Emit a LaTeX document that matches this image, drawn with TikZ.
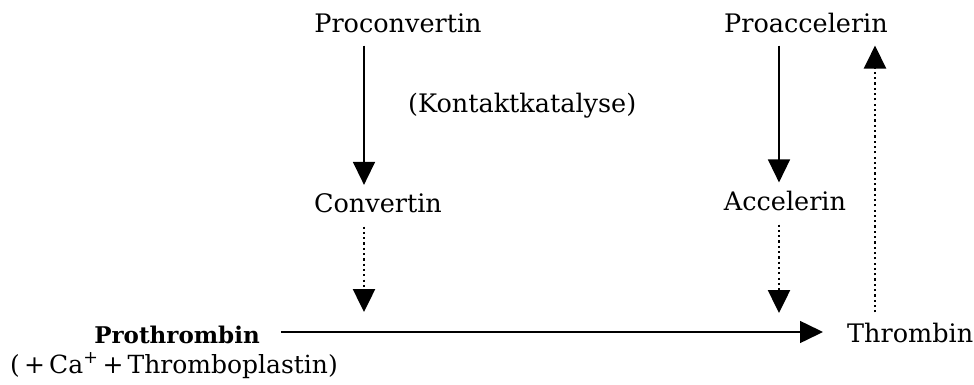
\documentclass[tikz,border=0pt]{standalone}
\usepackage{fontspec}
\setmainfont{DejaVu Serif}
\usetikzlibrary{arrows.meta}
\begin{document}
\begin{tikzpicture}[x=1pt,y=-1pt,
  lbl/.style={inner sep=0pt,anchor=base,font=\fontsize{25.5}{30}\selectfont},
  solidarrow/.style={line width=1.5pt,-{Triangle[width=22pt,length=23pt]}},
  dotarrow/.style={line width=2.5pt,dash pattern=on 2.2pt off 3.1pt,-{Triangle[width=22pt,length=23pt]}}]
\useasboundingbox (0,0) rectangle (974,385);
% nodes
\node[lbl] (proconv) at (398,33) {Proconvertin};
\node[lbl] (proacc) at (806,33) {Proaccelerin};
\node[lbl,anchor=base west] (kontakt) at (408,113) {(Kontaktkatalyse)};
\node[lbl] (conv) at (378,212) {Convertin};
\node[lbl] (acc) at (785,210) {Accelerin};
\node[lbl,font=\fontsize{23}{27}\selectfont\bfseries] (proth) at (177,343) {Prothrombin};
\node[lbl,anchor=base west,font=\fontsize{25}{30}\selectfont] (ca) at (10,373) {(\,+\,Ca\textsuperscript{+}\,+\,Thromboplastin)};
\node[lbl,anchor=base west] (thr) at (847,342) {Thrombin};
% helper coordinates
\coordinate (c1) at (364,0);
\coordinate (c2) at (779,0);
\coordinate (c3) at (875,0);
\coordinate (hl) at (0,332);
% connectors
\draw[solidarrow,shorten <=12pt,shorten >=8pt] (proconv.south -| c1) -- (conv.north -| c1);
\draw[solidarrow,shorten <=12pt,shorten >=8pt] (proacc.south -| c2) -- (acc.north -| c2);
\draw[dotarrow,shorten <=14pt,shorten >=20pt] (conv.south -| c1) -- (hl -| c1);
\draw[dotarrow,shorten <=14pt,shorten >=19pt] (acc.south -| c2) -- (hl -| c2);
\draw[solidarrow,shorten <=21pt,shorten >=24pt] (proth.east |- hl) -- (thr.west |- hl);
\draw[dotarrow,shorten <=10pt,shorten >=12pt] (thr.north -| c3) -- (proacc.south -| c3);
\end{tikzpicture}
\end{document}
